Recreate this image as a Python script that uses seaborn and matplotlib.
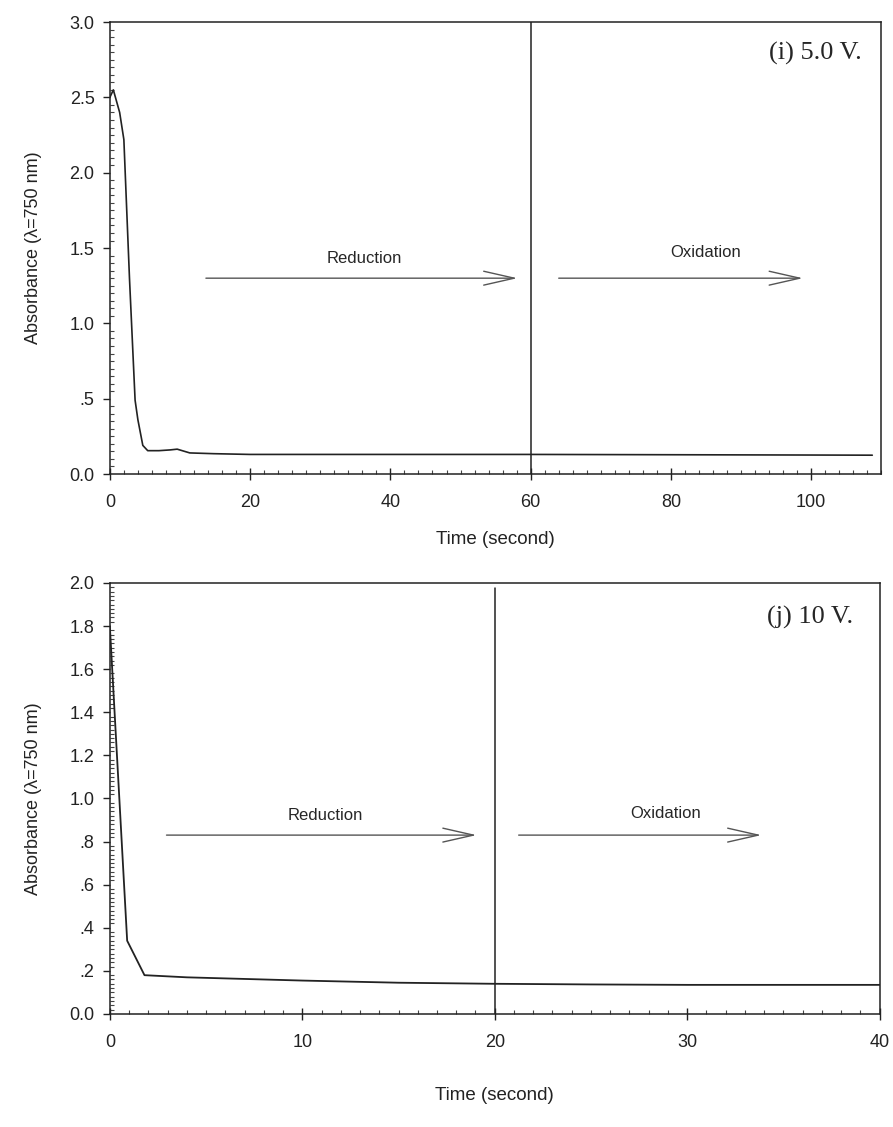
import numpy as np
import pandas as pd
import seaborn as sns
import matplotlib.pyplot as plt
from matplotlib.ticker import MultipleLocator

# data
time_i = [0.0, 0.5, 1.4, 2.0, 2.8, 3.6, 4.0, 4.7, 5.4, 7.0, 8.6, 9.6, 11.4, 14.8, 20, 40, 60, 80, 100, 108.7]
abs_i = [2.50, 2.55, 2.40, 2.22, 1.30, 0.49, 0.36, 0.19, 0.155, 0.155, 0.16, 0.165, 0.14, 0.135, 0.13, 0.13, 0.13, 0.128, 0.126, 0.125]

time_j = [0.0, 0.9, 1.8, 4, 6, 10, 15, 20, 25, 30, 35, 40]
abs_j = [1.80, 0.34, 0.18, 0.17, 0.165, 0.155, 0.145, 0.14, 0.137, 0.135, 0.135, 0.135]

yticks_i = [0.0, 0.5, 1.0, 1.5, 2.0, 2.5, 3.0]
ylabels_i = ['0.0', '.5', '1.0', '1.5', '2.0', '2.5', '3.0']
xticks_i = [0, 20, 40, 60, 80, 100]

yticks_j = [0.0, 0.2, 0.4, 0.6, 0.8, 1.0, 1.2, 1.4, 1.6, 1.8, 2.0]
ylabels_j = ['0.0', '.2', '.4', '.6', '.8', '1.0', '1.2', '1.4', '1.6', '1.8', '2.0']
xticks_j = [0, 10, 20, 30, 40]

df_i = pd.DataFrame({'time': time_i, 'absorbance': abs_i})
df_j = pd.DataFrame({'time': time_j, 'absorbance': abs_j})

sns.set_style('ticks')
plt.rcParams['font.family'] = ['Liberation Sans', 'DejaVu Sans']

fig = plt.figure(figsize=(8.93, 11.27), dpi=100)
ax1 = fig.add_axes([0.123, 0.5794, 0.864, 0.401])
ax2 = fig.add_axes([0.123, 0.1003, 0.862, 0.3824])

arrow = dict(arrowstyle='->,head_length=2.2,head_width=0.5', lw=1.0, color='#555555')


def style_axis(ax, yticks, ylabels, xticks, xminor, yminor, xpad):
    ax.set_yticks(yticks)
    ax.set_yticklabels(ylabels)
    ax.set_xticks(xticks)
    ax.xaxis.set_minor_locator(MultipleLocator(xminor))
    ax.yaxis.set_minor_locator(MultipleLocator(yminor))
    ax.tick_params(which='major', direction='out', length=5, width=1, labelsize=13, colors='#222222')
    ax.tick_params(axis='x', which='major', direction='inout', length=9, pad=10)
    ax.tick_params(axis='y', which='major', pad=6)
    ax.tick_params(which='minor', direction='in', length=3, width=0.8, color='#444444')
    for s in ax.spines.values():
        s.set_linewidth(1.1)
        s.set_color('#222222')
    ax.set_xlabel('Time (second)', fontsize=13.5, labelpad=xpad, color='#222222')
    ax.set_ylabel('Absorbance (λ=750 nm)', fontsize=13, labelpad=20, color='#222222')


# top panel (i) 5.0 V
sns.lineplot(data=df_i, x='time', y='absorbance', ax=ax1, color='#222222', lw=1.2, sort=False)
ax1.set_xlim(0, 110)
ax1.set_ylim(0, 3.0)
style_axis(ax1, yticks_i, ylabels_i, xticks_i, 2, 0.05, 14)
ax1.axvline(60, color='#222222', lw=1.1)
ax1.annotate('', xy=(58.5, 1.3), xytext=(13.3, 1.3), arrowprops=arrow)
ax1.annotate('', xy=(99.2, 1.3), xytext=(63.6, 1.3), arrowprops=arrow)
ax1.text(36.3, 1.43, 'Reduction', ha='center', va='center', fontsize=12)
ax1.text(85.0, 1.47, 'Oxidation', ha='center', va='center', fontsize=12)
ax1.text(0.975, 0.93, '(i) 5.0 V.', transform=ax1.transAxes, ha='right', va='center',
         fontsize=19, family=['Liberation Serif', 'DejaVu Serif'])

# bottom panel (j) 10 V
sns.lineplot(data=df_j, x='time', y='absorbance', ax=ax2, color='#222222', lw=1.3, sort=False)
ax2.set_xlim(0, 40)
ax2.set_ylim(0, 2.0)
style_axis(ax2, yticks_j, ylabels_j, xticks_j, 1, 0.02, 26)
ax2.plot([20, 20], [0, 1.975], color='#222222', lw=1.1)
ax2.annotate('', xy=(19.2, 0.83), xytext=(2.8, 0.83), arrowprops=arrow)
ax2.annotate('', xy=(34.0, 0.83), xytext=(21.1, 0.83), arrowprops=arrow)
ax2.text(11.2, 0.92, 'Reduction', ha='center', va='center', fontsize=12)
ax2.text(28.9, 0.93, 'Oxidation', ha='center', va='center', fontsize=12)
ax2.text(0.965, 0.92, '(j) 10 V.', transform=ax2.transAxes, ha='right', va='center',
         fontsize=19, family=['Liberation Serif', 'DejaVu Serif'])

fig.savefig('out.png', dpi=100)
